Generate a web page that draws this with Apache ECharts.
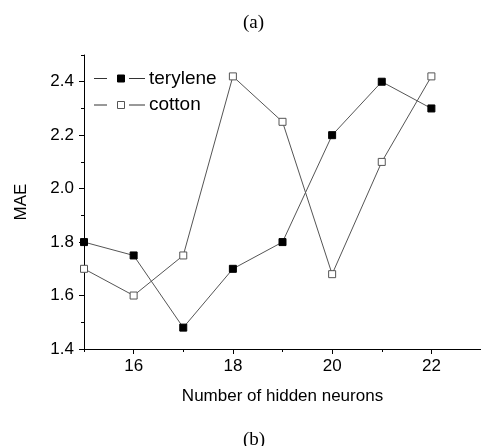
<!DOCTYPE html>
<html>
<head>
<meta charset="utf-8">
<script src="https://cdn.jsdelivr.net/npm/echarts@6/dist/echarts.min.js"></script>
<style>
  html, body { margin: 0; padding: 0; background: #fff; }
  #chart { width: 481px; height: 446px; }
</style>
</head>
<body>
<div id="chart"></div>
<script>
// hidden neurons vs MAE
const neurons = [15, 16, 17, 18, 19, 20, 21, 22];
const terylene = [1.8, 1.75, 1.48, 1.7, 1.8, 2.2, 2.4, 2.3];
const cotton = [1.7, 1.6, 1.75, 2.42, 2.25, 1.68, 2.1, 2.42];
const xMajor = [16, 18, 20, 22];
const yMajor = [1.4, 1.6, 1.8, 2.0, 2.2, 2.4];

const chart = echarts.init(document.getElementById('chart'));

const pairs = (ys) => neurons.map((x, i) => [x, ys[i]]);
const font = 'Liberation Sans';

// legend drawn by hand: dash - marker - dash - name
function legendRow(y, name, fill, stroke) {
  return [
    { type: 'line', shape: { x1: 94, y1: y, x2: 107, y2: y }, style: { stroke: '#333', lineWidth: 1 } },
    { type: 'rect', shape: { x: 117.5, y: y - 3.5, width: 7, height: 7 }, style: { fill: fill, stroke: stroke, lineWidth: 1 } },
    { type: 'line', shape: { x1: 129, y1: y, x2: 145, y2: y }, style: { stroke: '#333', lineWidth: 1 } },
    { type: 'text', x: 149, y: y, style: { text: name, font: '19px ' + font, fill: '#000', verticalAlign: 'middle' } }
  ];
}

const option = {
  backgroundColor: '#fff',
  animation: false,
  title: [
    {
      text: '(a)',
      left: 238,
      top: 9,
      textStyle: { fontFamily: 'Liberation Serif', fontSize: 19, fontWeight: 'normal', color: '#000' }
    },
    {
      text: '(b)',
      left: 238,
      top: 426,
      textStyle: { fontFamily: 'Liberation Serif', fontSize: 19, fontWeight: 'normal', color: '#000' }
    }
  ],
  graphic: [].concat(
    legendRow(78.5, 'terylene', '#000', '#000'),
    legendRow(105, 'cotton', '#fff', '#555')
  ),
  grid: { left: 84, right: 0, top: 55, bottom: 97 },
  xAxis: [
    {
      type: 'value',
      min: 15,
      max: 23,
      interval: 1,
      name: 'Number of hidden neurons',
      nameLocation: 'middle',
      nameGap: 39,
      nameTextStyle: { fontFamily: font, fontSize: 17, color: '#000' },
      axisLine: { lineStyle: { color: '#000', width: 1 } },
      axisTick: { show: true, inside: false, length: 3, lineStyle: { color: '#000' } },
      axisLabel: { fontFamily: font, fontSize: 17, color: '#000', margin: 9, customValues: xMajor },
      splitLine: { show: false }
    },
    {
      type: 'value',
      min: 15,
      max: 23,
      interval: 1,
      position: 'bottom',
      axisLine: { show: false },
      axisTick: { show: true, inside: false, length: 5, customValues: xMajor, lineStyle: { color: '#000' } },
      axisLabel: { show: false },
      splitLine: { show: false }
    }
  ],
  yAxis: [
    {
      type: 'value',
      min: 1.4,
      max: 2.5,
      interval: 0.1,
      name: 'MAE',
      nameLocation: 'middle',
      nameGap: 54,
      nameTextStyle: { fontFamily: font, fontSize: 17, color: '#000' },
      axisLine: { show: true, lineStyle: { color: '#000', width: 1 } },
      axisTick: { show: true, inside: false, length: 3, lineStyle: { color: '#000' } },
      axisLabel: {
        fontFamily: font, fontSize: 17, color: '#000', margin: 10,
        customValues: yMajor,
        formatter: (v) => v.toFixed(1)
      },
      splitLine: { show: false }
    },
    {
      type: 'value',
      min: 1.4,
      max: 2.5,
      interval: 0.1,
      position: 'left',
      axisLine: { show: false },
      axisTick: { show: true, inside: false, length: 5, customValues: yMajor, lineStyle: { color: '#000' } },
      axisLabel: { show: false },
      splitLine: { show: false }
    }
  ],
  series: [
    {
      name: 'terylene',
      type: 'line',
      data: pairs(terylene),
      symbol: 'rect',
      symbolSize: 7,
      lineStyle: { color: '#555', width: 1 },
      itemStyle: { color: '#000', borderColor: '#000', borderWidth: 1 }
    },
    {
      name: 'cotton',
      type: 'line',
      data: pairs(cotton),
      symbol: 'rect',
      symbolSize: 7,
      lineStyle: { color: '#555', width: 1 },
      itemStyle: { color: '#fff', borderColor: '#555', borderWidth: 1 }
    }
  ]
};

chart.setOption(option);
</script>
</body>
</html>
